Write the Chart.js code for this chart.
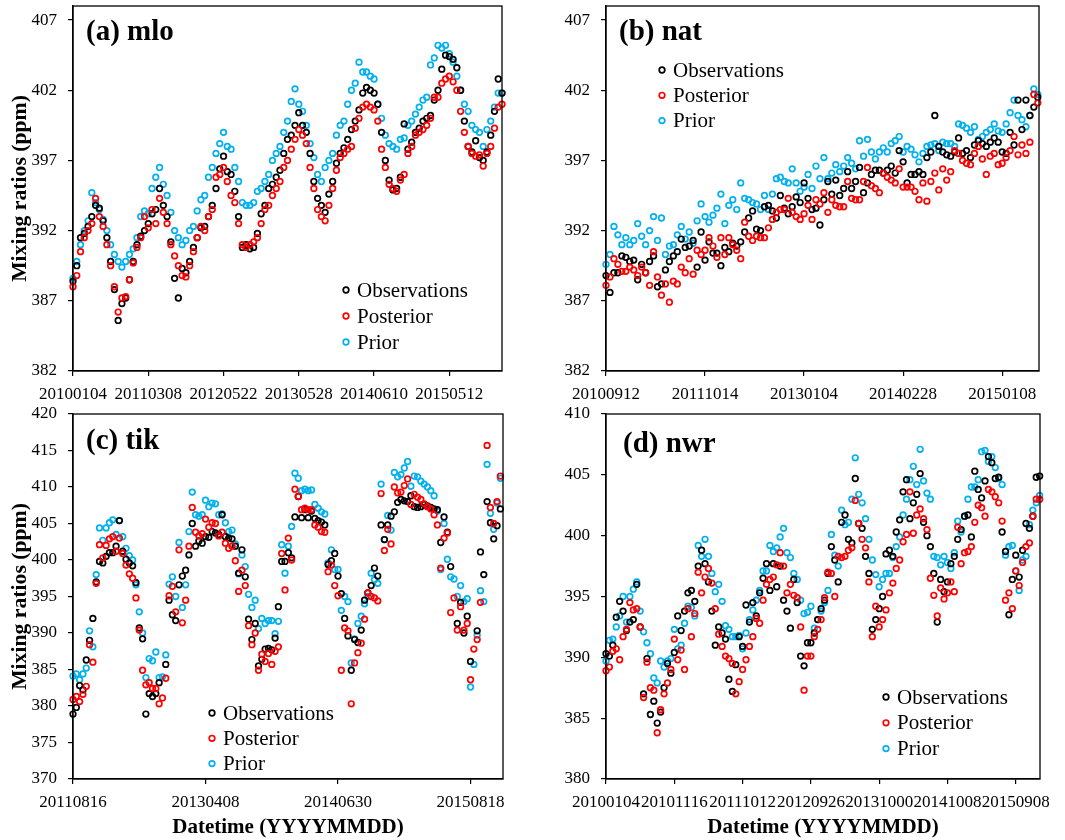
<!DOCTYPE html>
<html><head><meta charset="utf-8">
<script src="https://cdn.jsdelivr.net/npm/chart.js@4.4.1/dist/chart.umd.min.js"></script>
<style>
html,body{margin:0;padding:0;background:#fff;}
body{width:1065px;height:840px;position:relative;overflow:hidden;}
.p{position:absolute;}
canvas{display:block;}
</style></head><body>
<div class="p" style="left:0;top:0;width:532px;height:400px"><canvas id="ca" width="532" height="400"></canvas></div>
<div class="p" style="left:532px;top:0;width:533px;height:400px"><canvas id="cb" width="533" height="400"></canvas></div>
<div class="p" style="left:0;top:400px;width:532px;height:440px"><canvas id="cc" width="532" height="440"></canvas></div>
<div class="p" style="left:532px;top:400px;width:533px;height:440px"><canvas id="cd" width="533" height="440"></canvas></div>
<script>
// ---------------- DATA ----------------
const seriesNames = ['Observations','Posterior','Prior'];

// (a) mlo
const mloTickLabels = ['20100104','20110308','20120522','20130528','20140610','20150512'];
const mloObs = [388.4,389.5,391.5,391.8,392.3,393.0,393.8,393.6,392.7,391.5,
389.8,387.8,385.6,386.8,387.2,388.5,389.8,391.0,391.6,392.0,
392.5,393.2,393.5,395.0,393.8,393.0,391.2,388.6,387.2,389.3,
389.0,389.8,390.8,391.5,392.2,392.3,393.0,393.8,395.0,396.4,
397.3,396.2,396.0,394.8,393.0,390.8,391.0,390.7,390.8,391.8,
393.2,393.8,395.0,395.3,395.8,396.3,397.5,398.5,398.8,399.5,
400.4,399.5,399.0,397.5,395.5,394.3,393.8,393.3,394.6,395.5,
396.8,397.5,397.9,398.5,399.2,399.8,400.6,401.8,402.2,402.0,
401.8,401.0,399.0,397.0,395.6,394.9,395.0,395.8,399.6,397.8,
398.3,399.0,399.3,399.8,400.0,400.2,401.3,402.0,403.5,404.5,
404.4,404.2,403.6,402.0,399.8,398.0,397.6,398.4,397.2,397.0,
397.6,398.8,400.5,402.8,401.8];
const mloPost = [388.0,388.8,390.5,391.5,392.0,392.5,394.3,393.0,392.3,391.0,
389.5,388.0,386.2,387.2,387.3,388.5,389.7,390.8,391.5,393.0,
392.2,393.5,392.5,394.3,393.3,392.5,391.0,390.2,389.5,388.8,
388.7,389.5,390.5,391.5,392.3,392.0,393.0,393.5,395.8,396.0,
396.5,395.5,394.5,394.0,392.5,391.0,390.8,391.0,391.2,391.5,
392.5,393.5,393.8,394.5,395.0,395.5,396.5,397.0,397.8,398.5,
399.2,398.8,398.2,396.5,395.0,393.5,393.0,392.7,393.8,395.0,
396.3,397.2,397.5,397.8,398.0,399.3,400.0,400.8,401.0,400.8,
400.6,399.8,397.8,396.5,395.3,395.0,394.8,395.6,396.0,397.5,
398.0,398.8,399.0,399.2,399.5,400.0,401.5,401.5,402.5,402.8,
403.0,402.6,402.0,400.5,399.0,398.0,397.5,397.3,397.4,396.6,
397.5,398.0,399.3,400.8,401.0];
const mloPrior = [388.6,389.8,391.0,392.0,392.7,394.7,394.0,393.5,392.8,392.0,
391.0,390.3,389.8,389.4,389.8,390.3,390.7,391.5,393.0,393.4,
393.2,395.0,395.8,396.5,395.3,394.5,393.3,392.0,391.5,391.0,
391.3,392.0,392.3,393.4,394.2,394.5,395.8,396.5,397.5,398.2,
399.0,398.0,397.8,396.5,395.5,394.0,393.8,393.8,394.0,394.8,
395.0,395.5,396.0,397.0,397.5,398.0,399.0,399.8,401.2,402.1,
401.0,400.5,399.5,398.2,397.2,396.0,395.5,396.5,397.0,397.5,
398.8,399.5,399.8,401.0,402.0,402.5,404.0,403.3,403.3,403.0,
402.8,401.0,400.0,398.8,398.2,398.0,397.8,398.5,398.6,399.5,
399.8,400.3,400.8,401.3,401.5,403.8,404.3,405.2,405.0,405.2,
404.6,404.0,403.0,402.0,401.0,400.5,399.5,399.2,399.0,398.0,
399.2,399.8,400.8,401.8,401.8];

// (b) nat
const natTickLabels = ['20100912','20111014','20130104','20140228','20150108'];
const natObs = [388.8,387.6,389.0,389.0,390.2,390.1,389.8,389.9,388.5,389.6,
389.0,389.8,390.2,388.0,388.2,389.2,389.8,390.2,390.5,391.4,
390.8,390.9,391.3,389.4,391.9,389.9,391.2,390.4,390.4,389.5,
390.8,390.5,391.1,390.9,391.2,391.9,392.9,393.4,392.1,392.0,
393.7,393.8,393.4,392.9,394.5,393.6,393.2,393.7,394.4,394.0,
395.4,394.3,393.5,393.6,392.4,394.2,395.5,394.6,395.6,394.5,
395.0,396.2,395.0,395.5,396.5,394.7,395.4,396.0,396.3,396.3,
396.1,396.3,396.6,396.1,397.7,396.9,395.4,396.0,396.0,396.2,
396.0,397.2,397.6,400.2,398.0,397.6,397.4,397.3,397.6,398.6,
397.5,397.7,397.2,398.1,398.4,398.2,398.0,398.3,398.6,398.3,
397.6,397.5,399.0,398.1,401.3,399.2,401.3,400.2,400.8,401.5];
const natPost = [388.1,388.7,390.0,389.6,389.1,389.1,389.4,389.2,388.8,389.4,
389.0,388.1,390.5,388.7,387.4,388.2,386.9,388.4,388.2,389.4,
389.0,390.0,388.9,390.6,390.3,390.6,391.5,390.9,390.1,391.5,
390.3,391.5,391.0,390.6,390.0,392.6,391.6,391.3,391.6,391.5,
391.5,392.2,392.8,393.3,393.5,393.5,394.3,393.3,393.0,392.8,
393.2,393.8,392.8,394.2,393.9,394.7,393.3,394.2,393.8,393.7,
393.7,395.5,394.3,394.2,394.2,395.5,396.5,395.2,395.0,394.7,
396.1,395.8,395.6,395.4,396.4,395.1,395.1,395.1,394.8,394.2,
395.4,394.1,395.5,396.1,394.9,396.4,395.6,396.2,397.7,397.5,
397.0,396.8,396.7,397.5,398.0,397.1,396.0,397.3,397.5,396.7,
396.8,397.2,397.7,398.7,397.4,398.1,397.5,398.3,401.7,401.1];
const natPrior = [389.6,390.3,392.3,391.7,391.0,391.5,391.0,391.3,392.5,391.6,
391.0,392.0,393.0,391.3,392.9,390.3,390.9,391.0,391.7,392.3,
391.4,391.9,391.1,392.7,393.9,393.0,392.6,393.1,393.6,394.6,
392.5,393.8,394.2,393.5,395.4,394.3,394.2,394.0,393.9,393.5,
394.5,393.5,394.6,395.7,395.8,395.5,395.4,396.4,395.4,394.8,
395.1,396.0,395.0,396.6,395.7,397.2,395.7,396.1,396.7,396.2,
396.6,397.2,396.8,396.4,398.4,397.3,398.5,397.6,397.1,397.6,
397.9,397.6,398.2,398.4,398.7,397.6,398.0,397.8,397.4,396.9,
397.5,398.0,398.1,398.2,397.7,398.3,398.2,398.2,398.0,399.6,
399.5,399.3,399.0,399.4,398.5,398.7,399.0,399.2,399.6,399.1,
399.0,399.6,400.4,401.3,400.2,399.9,399.4,400.2,402.1,401.7];

// (c) tik
const tikTickLabels = ['20110816','20130408','20140630','20150818'];
const tikObs = [378.9,379.8,382.8,382.2,386.3,389.0,392.0,397.0,399.8,399.6,
400.5,401.0,401.0,401.9,405.4,401.2,400.1,399.6,399.2,396.9,
390.7,389.2,378.9,381.7,381.3,381.7,383.2,null,385.7,394.5,
392.5,391.7,396.6,397.8,398.6,400.7,405.0,401.9,402.6,402.3,
403.2,403.1,403.9,403.7,403.5,406.2,403.2,403.0,402.9,401.9,
398.2,401.4,397.7,391.9,389.1,391.3,385.5,386.4,387.8,387.9,
387.7,389.3,393.6,399.8,399.8,401.0,400.3,405.9,408.7,405.8,
406.9,405.8,406.7,405.7,405.4,405.2,404.8,399.4,399.9,400.9,
397.8,395.4,392.0,389.6,384.9,389.1,388.7,390.4,394.5,395.5,
396.5,398.9,397.8,404.8,402.8,404.8,406.0,406.6,407.9,408.3,
408.1,408.0,408.8,407.3,407.2,407.3,407.6,407.4,407.2,407.0,
406.9,402.4,405.9,403.8,399.1,null,391.3,394.2,390.0,392.3,
386.1,null,390.3,401.1,398.0,408.0,405.1,402.9,404.7,407.0,null];
const tikPost = [380.9,381.3,380.6,381.6,382.7,388.4,386.0,396.8,402.1,400.3,
402.0,402.9,403.2,401.2,403.0,400.9,399.3,398.1,397.5,394.8,
390.4,384.9,382.9,383.2,382.4,382.4,380.3,381.1,383.8,395.1,
396.4,392.9,401.4,391.4,394.5,401.9,407.2,403.8,403.3,403.6,
405.6,404.5,405.1,405.0,403.3,403.8,402.3,401.6,401.9,399.9,
395.7,398.6,396.5,391.0,388.4,390.0,384.9,387.1,386.1,387.2,
385.7,387.5,388.1,400.9,395.9,403.0,400.0,409.7,408.7,406.9,
407.1,406.9,406.9,404.8,404.5,403.9,403.8,398.4,399.3,396.5,
395.1,384.9,390.7,390.3,380.3,385.9,387.3,388.6,391.9,395.5,
395.0,394.8,394.4,409.1,401.3,404.2,402.2,410.0,409.2,409.3,
410.2,411.1,407.6,409.0,408.6,408.3,407.7,407.3,407.0,406.2,
404.8,398.9,403.0,403.7,392.8,394.8,390.4,393.6,390.4,391.3,
383.6,387.8,389.1,394.2,null,415.7,407.2,405.0,408.0,411.5,null];
const tikPrior = [384.1,384.4,383.6,384.4,385.2,390.3,388.1,398.0,404.4,402.7,
404.4,405.1,405.5,403.5,405.4,403.2,401.6,400.6,400.0,396.6,
392.9,390.0,383.9,386.5,386.2,387.4,383.9,384.0,387.0,396.7,
397.7,395.0,402.4,393.5,396.6,403.9,409.3,406.2,406.0,406.2,
408.2,407.3,407.8,407.7,406.2,406.3,405.1,403.9,404.1,402.2,
398.1,400.7,399.1,395.3,393.5,394.5,390.6,392.0,391.3,391.7,
391.7,389.9,391.6,402.1,398.2,401.9,404.6,411.9,411.2,409.5,
409.7,409.5,409.6,407.6,407.1,406.6,406.3,399.6,401.4,398.7,
398.7,393.1,395.0,394.3,385.9,389.2,391.3,392.3,394.0,395.0,
398.2,397.3,396.8,410.4,402.8,406.1,404.1,412.0,411.4,411.7,
412.6,413.5,410.1,411.5,411.4,410.8,410.4,410.0,409.5,408.8,
406.7,398.7,405.0,400.1,397.7,397.4,395.0,396.5,394.3,394.7,
382.6,385.7,389.7,395.8,394.3,413.1,406.4,404.2,407.8,411.2,null];

// (d) nwr
const nwrTickLabels = ['20100104','20101116','20111012','20120926','20131000','20141008','20150908'];
const nwrObs = [390.3,390.1,391.0,393.3,394.6,393.8,392.2,392.9,393.1,396.0,
392.5,387.0,389.9,385.3,386.4,384.6,385.5,387.5,389.5,388.7,
390.4,393.4,392.2,393.8,395.3,395.5,394.6,397.5,398.8,397.7,
396.2,393.8,391.0,392.5,392.0,391.5,388.2,387.2,389.4,391.7,
390.9,394.3,392.9,394.5,393.4,395.3,396.5,397.7,395.5,397.7,
395.8,397.5,394.7,393.8,392.4,396.4,394.5,390.1,389.3,391.2,
391.2,392.0,393.1,394.0,394.7,396.9,399.1,398.0,396.2,401.1,
401.7,399.7,399.4,404.7,401.0,400.6,398.3,396.9,392.3,393.1,
394.0,395.0,398.5,398.8,398.3,400.3,401.3,403.6,404.6,401.4,
402.7,403.4,405.1,401.1,400.0,399.1,396.9,392.9,396.4,395.4,
396.2,397.7,398.3,399.7,400.5,401.6,401.7,399.9,405.3,403.8,
403.1,404.5,406.5,406.0,404.7,404.8,400.3,398.7,393.5,396.4,
398.4,396.6,398.8,401.0,400.6,401.6,404.8,404.9];
const nwrPost = [388.9,389.2,390.5,390.7,389.8,391.7,392.3,394.5,393.9,394.0,
392.5,386.7,389.6,387.5,387.3,383.8,385.7,387.0,387.9,389.0,
391.5,389.8,390.6,389.0,394.0,391.7,393.6,397.0,395.3,396.6,
397.3,396.1,394.0,391.9,390.9,390.1,389.9,389.5,387.0,388.0,
389.0,389.8,390.9,391.7,393.2,392.8,394.7,396.0,396.4,396.6,
397.6,398.6,397.5,395.3,396.0,395.1,394.9,392.5,387.3,390.1,
390.1,391.7,392.3,393.1,394.9,397.0,396.9,395.0,398.3,398.2,
398.3,398.8,399.0,402.9,401.0,399.7,399.0,396.2,391.7,394.2,
392.5,393.1,393.9,395.3,396.1,397.3,398.0,399.5,400.1,403.6,
400.2,401.7,402.2,401.4,400.5,396.5,395.1,393.4,395.7,394.8,
395.3,396.2,395.4,400.7,397.7,398.6,398.7,399.1,401.1,402.5,
402.3,401.6,403.8,403.6,403.2,402.7,401.2,394.7,395.3,394.0,
397.1,395.9,397.8,399.1,399.4,401.6,403.0,403.0];
const nwrPrior = [389.7,391.4,391.5,392.5,393.4,395.0,392.9,395.0,395.6,396.2,
393.8,392.1,391.2,390.3,388.3,387.9,389.7,389.2,389.7,389.9,
392.3,390.7,391.0,392.8,394.2,394.1,393.4,399.2,398.3,399.7,
398.3,396.9,395.4,396.0,394.6,392.6,392.3,391.7,391.7,391.8,
390.7,392.0,393.1,393.9,394.7,395.5,397.1,397.1,399.2,398.7,
399.0,399.9,400.6,398.6,398.2,396.9,396.4,394.7,393.6,393.7,
394.2,392.4,393.1,393.8,394.5,395.5,400.1,398.4,397.5,402.1,
400.9,401.1,403.0,406.4,403.4,402.7,401.4,399.7,398.0,396.8,
395.8,396.4,396.9,396.9,398.2,399.1,399.9,401.7,403.0,404.6,
405.7,404.2,407.1,404.5,403.5,403.0,398.3,398.2,397.6,398.3,
397.8,397.3,398.6,401.2,400.3,401.6,403.0,404.0,404.0,404.6,
406.9,407.0,406.1,406.5,405.6,404.7,404.2,398.4,399.1,399.2,
397.1,395.5,398.0,398.3,400.9,402.1,402.7,403.3];

// y-axis tick values
const yTicksAB = [382,387,392,397,402,407];
const yTicksC = [370,375,380,385,390,395,400,405,410,415,420];
const yTicksD = [380,385,390,395,400,405,410];

// ---------------- STYLE / RENDER ----------------
const SERIF = "'Liberation Serif','Times New Roman',Times,serif";
const COLORS = {Observations:'#000000', Posterior:'#FF0000', Prior:'#00B0F0'};
const R = 2.8, BW = 1.7;
Chart.defaults.font.family = SERIF;
Chart.defaults.color = '#000';

function toXY(arr){ const out=[]; arr.forEach((v,i)=>{ if(v!==null) out.push({x:i,y:v}); }); return out; }

function makeChart(id, c){
  const mk = (name, arr) => ({
    label:name, data:toXY(arr), showLine:false, clip:false,
    borderColor:COLORS[name], backgroundColor:'rgba(0,0,0,0)',
    pointRadius:R, pointHoverRadius:R, pointBorderWidth:BW, borderWidth:BW
  });
  const deco = {
    id:'deco',
    afterDraw(chart){
      const {ctx, chartArea:a} = chart;
      ctx.save();
      ctx.strokeStyle='#000'; ctx.lineWidth=1.3;
      ctx.strokeRect(a.left, a.top, a.right-a.left, a.bottom-a.top);
      ctx.fillStyle='#000'; ctx.textAlign='left'; ctx.textBaseline='middle';
      ctx.font = 'bold 29px ' + SERIF;
      ctx.fillText(c.title, a.left + c.tdx, a.top + c.tdy);
      ctx.font = '21px ' + SERIF;
      seriesNames.forEach((n,k)=>{
        const y = c.legY + k*c.legDY;
        ctx.beginPath(); ctx.arc(c.legX, y, R, 0, Math.PI*2);
        ctx.strokeStyle = COLORS[n]; ctx.lineWidth = BW; ctx.stroke();
        ctx.fillStyle='#000'; ctx.fillText(n, c.legX + 11, y + 1);
      });
      ctx.restore();
    }
  };
  const tickIdx = c.labels.map((_,i)=>i*c.step);
  const noPad = (s)=>{ s.paddingTop=0; s.paddingBottom=0; s.paddingLeft=0; s.paddingRight=0; };
  new Chart(document.getElementById(id), {
    type:'scatter',
    data:{datasets:[mk('Posterior',c.post), mk('Observations',c.obs), mk('Prior',c.prior)]},
    options:{
      responsive:false, animation:false, devicePixelRatio:1, events:[],
      layout:{padding:{left:0, right:c.padR, top:c.padT, bottom:0}},
      plugins:{legend:{display:false}, tooltip:{enabled:false}},
      scales:{
        x:{type:'linear', min:0, max:c.xMax,
          afterBuildTicks:(ax)=>{ ax.ticks = tickIdx.map(v=>({value:v})); },
          afterFit:(s)=>{ s.height = c.xH; noPad(s); },
          ticks:{autoSkip:false, maxRotation:0, minRotation:0, padding:8, color:'#000',
            font:{family:SERIF, size:17}, callback:(v,i)=>c.labels[i]},
          grid:{drawOnChartArea:false, drawTicks:true, tickLength:5, color:'#000', lineWidth:1.2},
          border:{display:true, color:'#000', width:1.3},
          title:{display:!!c.xTitle, text:'Datetime (YYYYMMDD)', color:'#000',
            font:{family:SERIF, size:21, weight:'bold'}, padding:{top:0,bottom:0}}
        },
        y:{type:'linear', min:c.yMin, max:c.yMax,
          afterBuildTicks:(ax)=>{ ax.ticks = c.yTicks.map(v=>({value:v})); },
          afterFit:(s)=>{ s.width = c.yW; noPad(s); },
          ticks:{padding:11, color:'#000', font:{family:SERIF, size:17}},
          grid:{drawOnChartArea:false, drawTicks:true, tickLength:5, color:'#000', lineWidth:1.2},
          border:{display:true, color:'#000', width:1.3},
          title:{display:!!c.yTitle, text:'Mixing ratios (ppm)', color:'#000',
            font:{family:SERIF, size:21.7, weight:'bold'}, padding:{top:7,bottom:0}}
        }
      }
    },
    plugins:[deco]
  });
}

makeChart('ca', {title:'(a) mlo', obs:mloObs, post:mloPost, prior:mloPrior, labels:mloTickLabels, step:20, xMax:114,
  yMin:382, yMax:408, yTicks:yTicksAB, yW:73, padT:6, padR:30, xH:29, yTitle:true, xTitle:false,
  tdx:13, tdy:27, legX:346, legY:290, legDY:26});
makeChart('cb', {title:'(b) nat', obs:natObs, post:natPost, prior:natPrior, labels:natTickLabels, step:25, xMax:109.3,
  yMin:382, yMax:408, yTicks:yTicksAB, yW:74, padT:6, padR:26, xH:29, yTitle:false, xTitle:false,
  tdx:13, tdy:27, legX:130, legY:70, legDY:25.3});
makeChart('cc', {title:'(c) tik', obs:tikObs, post:tikPost, prior:tikPrior, labels:tikTickLabels, step:40, xMax:129.8,
  yMin:370, yMax:420, yTicks:yTicksC, yW:73, padT:14, padR:29, xH:61, yTitle:true, xTitle:true,
  tdx:13, tdy:28, legX:212, legY:313, legDY:25.3});
makeChart('cd', {title:'(d) nwr', obs:nwrObs, post:nwrPost, prior:nwrPrior, labels:nwrTickLabels, step:20, xMax:127.1,
  yMin:380, yMax:410, yTicks:yTicksD, yW:74, padT:14, padR:25, xH:61, yTitle:false, xTitle:true,
  tdx:17, tdy:31, legX:354, legY:297, legDY:25.8});
</script>
</body></html>
